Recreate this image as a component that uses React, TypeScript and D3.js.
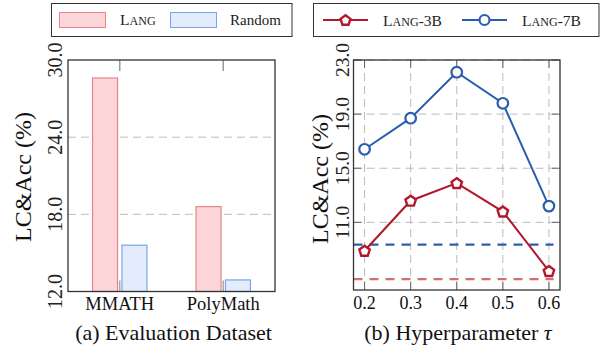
import * as d3 from "d3";

// ---- data ----
const datasets = ["MMATH", "PolyMath"];
const langScores = [28.6, 18.6];
const randomScores = [15.6, 12.9];
const barTicks = [12, 18, 24, 30];

const taus = [0.2, 0.3, 0.4, 0.5, 0.6];
const lang3b = [8.9, 12.6, 13.9, 11.8, 7.4];
const lang7b = [16.4, 18.7, 22.1, 19.8, 12.2];
const base3b = 6.8;
const base7b = 9.35;
const lineTicks = [11, 15, 19, 23];

const FONT = "Liberation Serif, Tinos, Times New Roman, DejaVu Serif, serif";
const RED = "#b2182b";
const BLUE = "#2b5fad";

const SmallCaps = ({ first, rest, tail }: { first: string; rest: string; tail?: string }) => (
  <>
    <tspan>{first}</tspan>
    <tspan fontSize="0.78em">{rest}</tspan>
    {tail ? <tspan>{tail}</tspan> : null}
  </>
);

const pentagon = (cx: number, cy: number, r: number) =>
  d3.range(5)
    .map((i) => {
      const a = -Math.PI / 2 + (i * 2 * Math.PI) / 5;
      return `${cx + r * Math.cos(a)},${cy + r * Math.sin(a)}`;
    })
    .join(" ");

const BarPanel = () => {
  const left = 68, right = 275, top = 60, bottom = 291.5;
  const x = d3.scaleLinear().domain([-0.5, 1.5]).range([left, right]);
  const y = d3.scaleLinear().domain([12, 30]).range([bottom, top]);
  const bw = 25, off = 14.7;
  return (
    <g style={{ fontFamily: FONT }}>
      {/* legend */}
      <rect x={51.5} y={3.5} width={240.5} height={33} fill="white" stroke="#333" strokeWidth={1} />
      <rect x={59.5} y={12.5} width={46} height={15} fill="#fcd6d9" stroke="#e8838a" strokeWidth={1} />
      <text x={120} y={25} fontSize={15.5} fill="#222">
        <SmallCaps first="L" rest="ANG" />
      </text>
      <rect x={170.5} y={12.5} width={46} height={15} fill="#e2ecfc" stroke="#7ba4e8" strokeWidth={1} />
      <text x={230} y={25} fontSize={15} fill="#222">Random</text>

      {/* grid */}
      {barTicks.slice(1, -1).map((t) => (
        <line key={t} x1={left} x2={right} y1={y(t)} y2={y(t)} stroke="#bbb" strokeDasharray="8,5" strokeWidth={1} />
      ))}
      {/* x ticks */}
      {datasets.map((d, i) => (
        <g key={d}>
          <line x1={x(i)} x2={x(i)} y1={bottom} y2={bottom - 11} stroke="#aaa" strokeWidth={1.5} />
          <line x1={x(i)} x2={x(i)} y1={top} y2={top + 11} stroke="#999" strokeWidth={1.5} />
        </g>
      ))}
      {/* bars */}
      {datasets.map((d, i) => (
        <g key={d}>
          <rect x={x(i) - off - bw / 2} y={y(langScores[i])} width={bw} height={bottom - y(langScores[i])}
            fill="#fcd6d9" stroke="#e8838a" strokeWidth={1.2} />
          <rect x={x(i) + off - bw / 2} y={y(randomScores[i])} width={bw} height={bottom - y(randomScores[i])}
            fill="#e2ecfc" stroke="#7ba4e8" strokeWidth={1.2} />
        </g>
      ))}
      <rect x={left} y={top} width={right - left} height={bottom - top} fill="none" stroke="#333" strokeWidth={1.3} />
      {/* y tick labels */}
      {barTicks.map((t) => (
        <text key={t} transform={`translate(62,${y(t)}) rotate(-90)`} textAnchor="middle" fontSize={20} fill="#222">
          {t.toFixed(1)}
        </text>
      ))}
      {datasets.map((d, i) => (
        <text key={d} x={x(i)} y={310} textAnchor="middle" fontSize={18.5} fill="#111">{d}</text>
      ))}
      <text transform="translate(31,177) rotate(-90)" textAnchor="middle" fontSize={24} fill="#111">LC&amp;Acc (%)</text>
      <text x={173.5} y={340} textAnchor="middle" fontSize={22} fill="#111">(a) Evaluation Dataset</text>
    </g>
  );
};

const LinePanel = () => {
  const left = 353.5, right = 560, top = 60, bottom = 290;
  const x = d3.scaleLinear().domain([0.176, 0.624]).range([left, right]);
  const y = d3.scaleLinear().domain([6, 23]).range([bottom, top]);
  const line = d3.line<number>().x((_, i) => x(taus[i])).y((v) => y(v));
  return (
    <g style={{ fontFamily: FONT }}>
      {/* legend */}
      <rect x={313.5} y={3.5} width={285.5} height={33} fill="white" stroke="#333" strokeWidth={1} />
      <line x1={323} x2={368} y1={20} y2={20} stroke={RED} strokeWidth={2} />
      <polygon points={pentagon(345.5, 20.5, 5.2)} fill="white" stroke={RED} strokeWidth={2.4} />
      <text x={383} y={25.5} fontSize={15.5} fill="#222">
        <SmallCaps first="L" rest="ANG" tail="-3B" />
      </text>
      <line x1={462} x2={507} y1={20} y2={20} stroke={BLUE} strokeWidth={2} />
      <circle cx={484.5} cy={20} r={5} fill="white" stroke={BLUE} strokeWidth={2.2} />
      <text x={522} y={25.5} fontSize={15.5} fill="#222">
        <SmallCaps first="L" rest="ANG" tail="-7B" />
      </text>

      {/* grid */}
      {taus.map((t) => (
        <line key={t} x1={x(t)} x2={x(t)} y1={top} y2={bottom} stroke="#bbb" strokeDasharray="8,5" strokeWidth={1} />
      ))}
      {lineTicks.map((t) => (
        <line key={t} x1={left} x2={right} y1={y(t)} y2={y(t)} stroke="#bbb" strokeDasharray="8,5" strokeWidth={1} />
      ))}
      {taus.map((t) => (
        <g key={t}>
          <line x1={x(t)} x2={x(t)} y1={top} y2={top + 8} stroke="#666" strokeWidth={1} />
          <line x1={x(t)} x2={x(t)} y1={bottom} y2={bottom - 8} stroke="#666" strokeWidth={1} />
        </g>
      ))}
      {lineTicks.map((t) => (
        <g key={t}>
          <line x1={left} x2={left + 8} y1={y(t)} y2={y(t)} stroke="#666" strokeWidth={1} />
          <line x1={right} x2={right - 8} y1={y(t)} y2={y(t)} stroke="#666" strokeWidth={1} />
        </g>
      ))}
      {/* baselines */}
      <line x1={left} x2={x(0.61)} y1={y(base7b)} y2={y(base7b)} stroke={BLUE} strokeWidth={2.2} strokeDasharray="9,7" />
      <line x1={left} x2={x(0.61)} y1={y(base3b)} y2={y(base3b)} stroke="#d96c70" strokeWidth={2.2} strokeDasharray="9,7" />
      {/* lines */}
      <path d={line(lang7b) ?? ""} fill="none" stroke={BLUE} strokeWidth={2} />
      <path d={line(lang3b) ?? ""} fill="none" stroke={RED} strokeWidth={2} />
      {lang7b.map((v, i) => (
        <circle key={i} cx={x(taus[i])} cy={y(v)} r={5.3} fill="white" stroke={BLUE} strokeWidth={2.2} />
      ))}
      {lang3b.map((v, i) => (
        <polygon key={i} points={pentagon(x(taus[i]), y(v) + 0.5, 5.5)} fill="white" stroke={RED} strokeWidth={2.4} />
      ))}
      <rect x={left} y={top} width={right - left} height={bottom - top} fill="none" stroke="#333" strokeWidth={1.3} />
      {lineTicks.map((t) => (
        <text key={t} transform={`translate(349,${y(t)}) rotate(-90)`} textAnchor="middle" fontSize={19.5} fill="#222">
          {t.toFixed(1)}
        </text>
      ))}
      {taus.map((t) => (
        <text key={t} x={x(t)} y={309} textAnchor="middle" fontSize={18} fill="#111">{t.toFixed(1)}</text>
      ))}
      <text transform="translate(328,179) rotate(-90)" textAnchor="middle" fontSize={24} fill="#111">LC&amp;Acc (%)</text>
      <text x={458} y={340} textAnchor="middle" fontSize={22} fill="#111">
        (b) Hyperparameter <tspan fontStyle="italic">τ</tspan>
      </text>
    </g>
  );
};

export default function App() {
  return (
    <svg width={602} height={350} style={{ position: "absolute", left: 0, top: 0, background: "white" }}>
      <BarPanel />
      <LinePanel />
    </svg>
  );
}
